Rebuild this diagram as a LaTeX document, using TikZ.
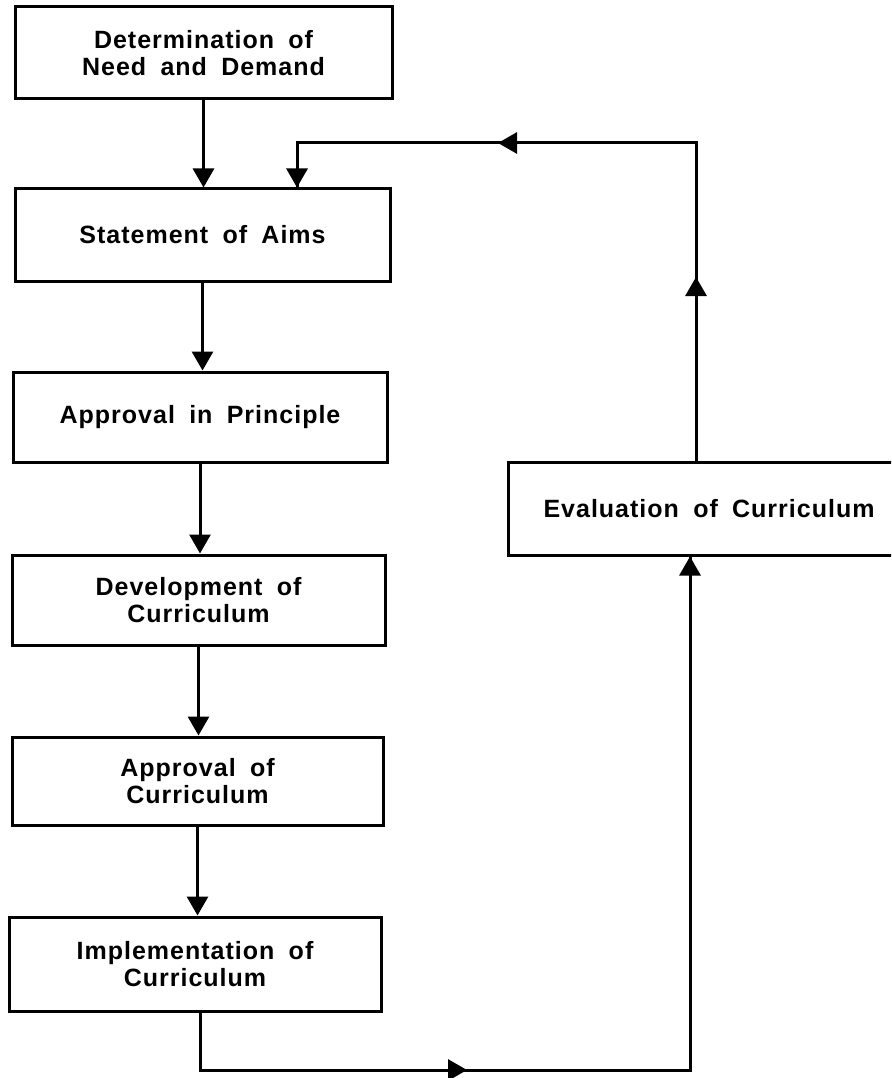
\documentclass[tikz,border=0pt]{standalone}
\usepackage{fontspec}
\setmainfont{Liberation Sans}[LetterSpace=4, WordSpace=1.8]
\usepackage{tikz}
\usetikzlibrary{arrows.meta}

\begin{document}
\begin{tikzpicture}[x=1pt, y=-1pt,
    stage/.style={draw, line width=3pt, align=center, inner sep=0pt,
        font=\fontsize{25}{27}\selectfont\bfseries},
    flow/.style={line width=3pt, -{Triangle[length=19pt, width=21pt]}},
    link/.style={line width=3pt}]
    \useasboundingbox (0, 0) rectangle (891, 1078);
    \clip (0, 0) rectangle (891, 1078);

    \node[stage, minimum width=377, minimum height=92] (need) at (203.5, 53) {Determination of\\Need and Demand};
    \node[stage, minimum width=375, minimum height=92] (aims) at (202.5, 235) {Statement of Aims};
    \node[stage, minimum width=374, minimum height=90] (princ) at (200, 417) {Approval in Principle};
    \node[stage, minimum width=373, minimum height=90] (dev) at (198.5, 600) {Development of\\Curriculum};
    \node[stage, minimum width=371, minimum height=88] (appr) at (197.5, 781) {Approval of\\Curriculum};
    \node[stage, minimum width=372, minimum height=94] (impl) at (195, 964) {Implementation of\\Curriculum};
    \node[stage, minimum width=402, minimum height=93] (eval) at (709, 508.5) {Evaluation of Curriculum};

    \coordinate (rise) at (696, 143);
    \coordinate (uptip) at (696, 277);
    \coordinate (lefttip) at (498, 143);
    \coordinate (drop) at (297, 143);
    \coordinate (low) at (200, 1070);
    \coordinate (righttip) at (467, 1070);
    \coordinate (turn) at (690, 1070);

    \draw[flow] (need.south) -- (need.south |- aims.north);
    \draw[flow] (aims.south) -- (aims.south |- princ.north);
    \draw[flow] (princ.south) -- (princ.south |- dev.north);
    \draw[flow] (dev.south) -- (dev.south |- appr.north);
    \draw[flow] (appr.south) -- (appr.south |- impl.north);

    % feedback from evaluation
    \draw[link] (eval.north -| rise) -- (rise) -- (drop) -- (drop |- aims.north);
    \draw[flow] (eval.north -| rise) -- (uptip);
    \draw[flow] (rise) -- (lefttip);
    \draw[flow] (drop) -- (drop |- aims.north);

    \draw[link] (low |- impl.south) -- (low) -- (turn) -- (turn |- eval.south);
    \draw[flow] (low) -- (righttip);
    \draw[flow] (turn) -- (turn |- eval.south);
\end{tikzpicture}
\end{document}
